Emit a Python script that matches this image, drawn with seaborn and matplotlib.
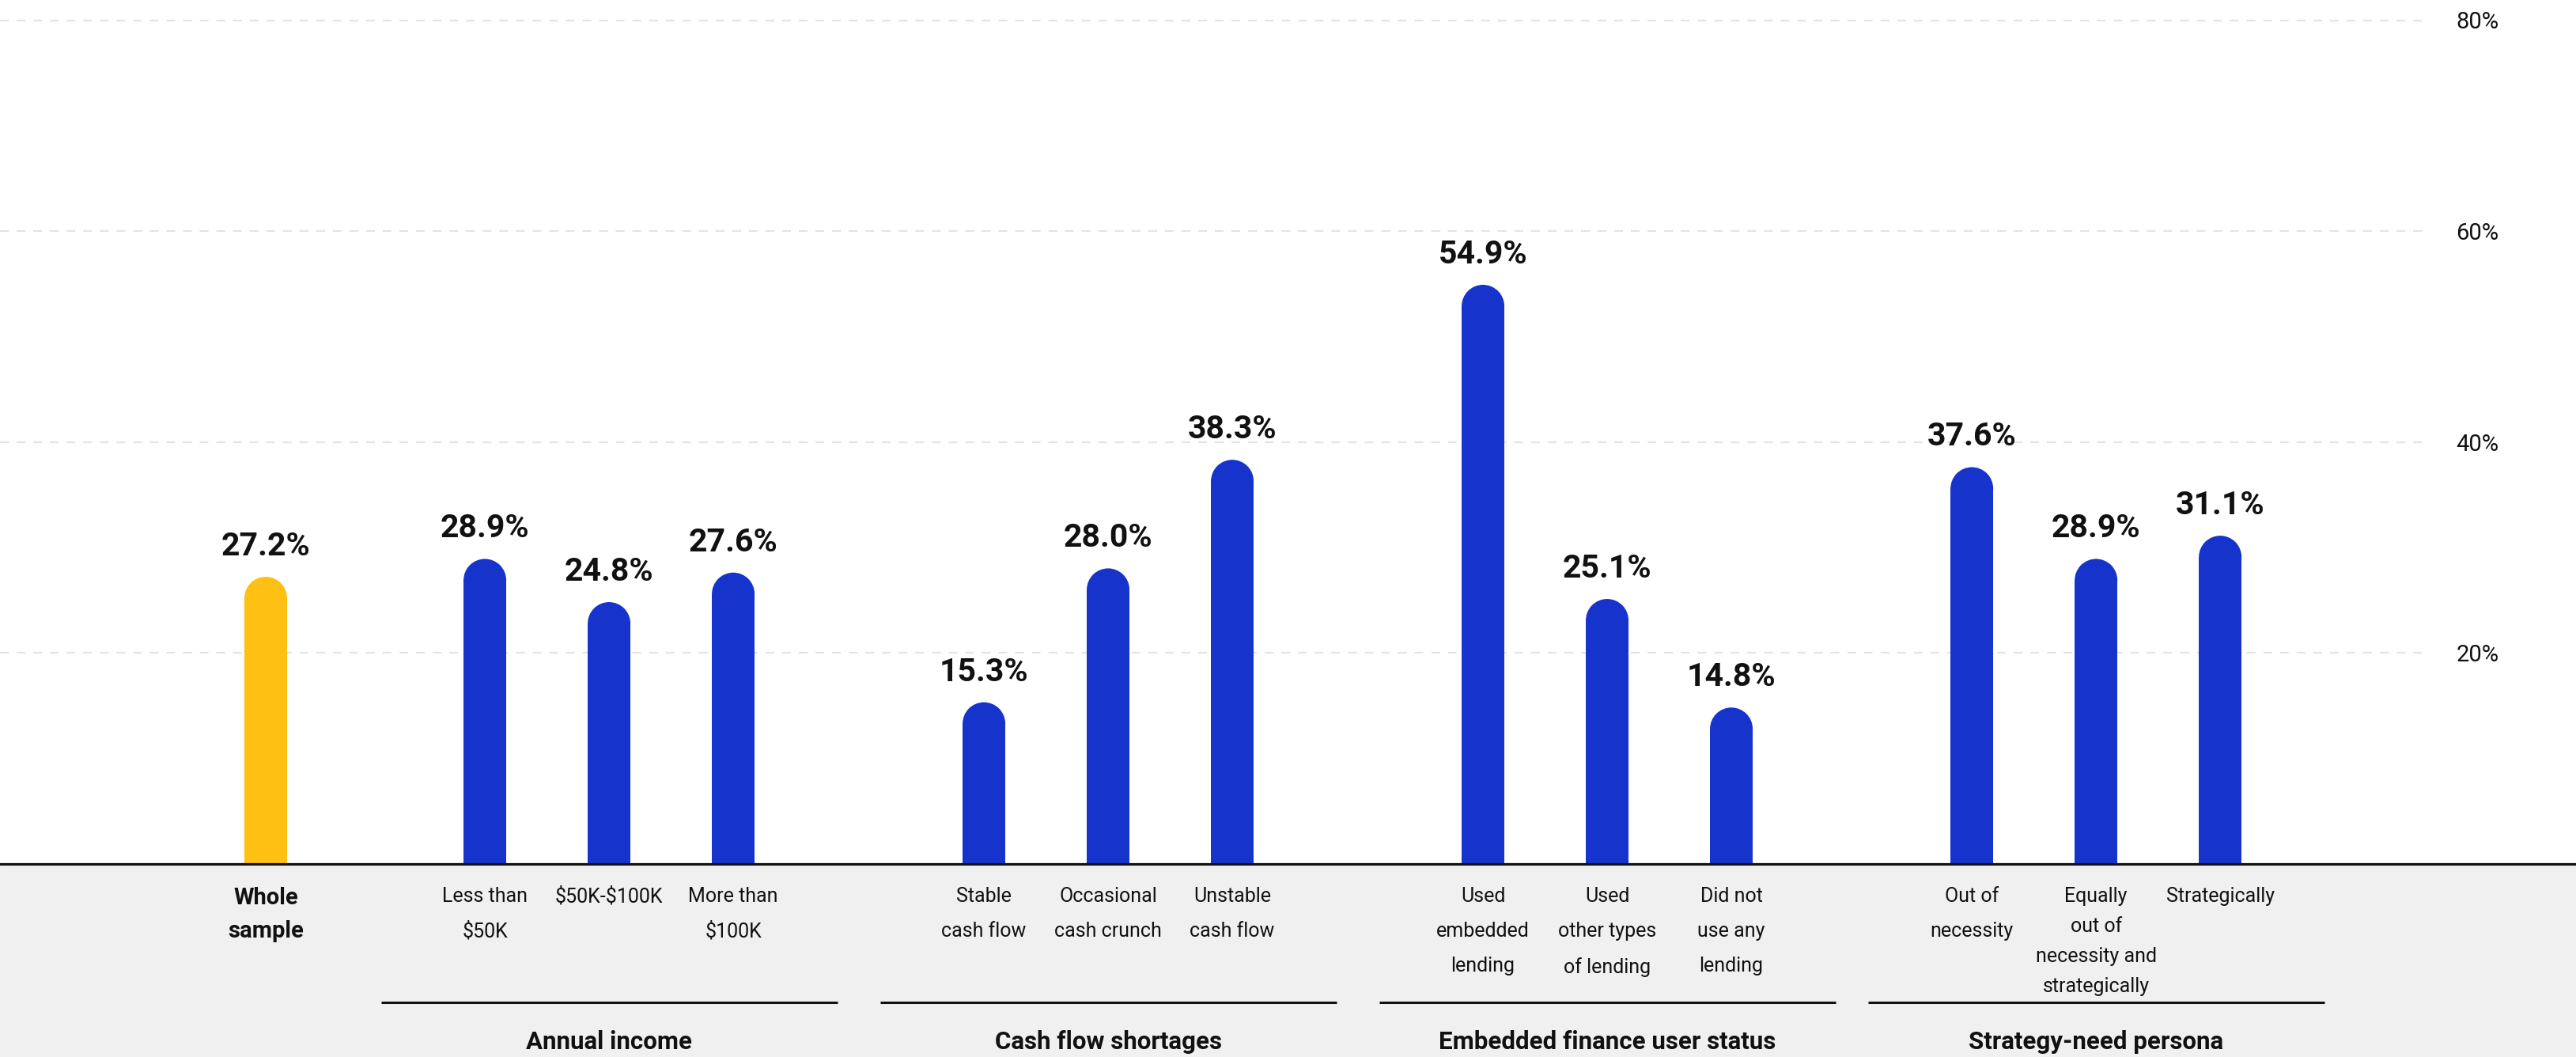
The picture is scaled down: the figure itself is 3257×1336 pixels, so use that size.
import numpy as np
import pandas as pd
import matplotlib
matplotlib.use("Agg")
import matplotlib.pyplot as plt
import matplotlib.transforms as mtransforms
from matplotlib.patches import Ellipse, Rectangle
from matplotlib.lines import Line2D
import seaborn as sns

# ---------------- data ----------------
categories = [
    "Whole\nsample",
    "Less than\n$50K", "$50K-$100K", "More than\n$100K",
    "Stable\ncash flow", "Occasional\ncash crunch", "Unstable\ncash flow",
    "Used\nembedded\nlending", "Used\nother types\nof lending", "Did not\nuse any\nlending",
    "Out of\nnecessity", "Equally\nout of\nnecessity and\nstrategically", "Strategically",
]
values = [27.2, 28.9, 24.8, 27.6, 15.3, 28.0, 38.3, 54.9, 25.1, 14.8, 37.6, 28.9, 31.1]
kinds = ["Whole sample"] + ["Segment"] * 12
group_titles = ["Annual income", "Cash flow shortages",
                "Embedded finance user status", "Strategy-need persona"]
y_ticks = [20, 40, 60, 80]
y_tick_labels = ["20%", "40%", "60%", "80%"]

# ---------------- style ----------------
YELLOW = "#FDC013"
BLUE = "#1634CC"
INK = "#111111"
BG_GRAY = "#F0F0F0"

sns.set_theme(style="white")
plt.rcParams["font.family"] = ["Roboto", "DejaVu Sans"]

W, H = 3257, 1336
fig = plt.figure(figsize=(W / 100, H / 100), dpi=100, facecolor="white")

# layout (pixels)
base_px = 1091.5          # baseline from top
px_per_pct = 13.325
slot = 157.0
ax_right_px = 3068
ymax = 82

ax_h = ymax * px_per_pct
ax = fig.add_axes([0, (H - base_px) / H, ax_right_px / W, ax_h / H])
ax.set_facecolor("none")

# positions in slot units
whole_pos = 2.14
group_centers = [4.905, 8.924, 12.943, 16.88]
positions = [whole_pos] + [c + o for c in group_centers for o in (-1, 0, 1)]

df = pd.DataFrame({"pos": positions, "value": values, "kind": kinds})

sns.barplot(data=df, x="pos", y="value", hue="kind",
            palette={"Whole sample": YELLOW, "Segment": BLUE},
            native_scale=True, width=0.344, dodge=False, legend=False,
            saturation=1, linewidth=0, ax=ax, zorder=3)

ax.set_xlim(0, ax_right_px / slot)
ax.set_ylim(0, ymax)

# rounded caps
p0 = ax.transData.transform((0, 0))
p1 = ax.transData.transform((1, 1))
sx, sy = p1[0] - p0[0], p1[1] - p0[1]
for p in list(ax.patches):
    x0, w, h = p.get_x(), p.get_width(), p.get_height()
    ry = (w * sx / 2) / sy
    p.set_height(h - ry)
    ax.add_patch(Ellipse((x0 + w / 2, h - ry), w, 2 * ry,
                         facecolor=p.get_facecolor(), lw=0, zorder=3))

# value labels
for x, v in zip(df["pos"], df["value"]):
    ax.annotate(f"{v:.1f}%", (x, v), xytext=(0, 19.5), textcoords="offset points",
                ha="center", va="baseline", fontsize=29.5, fontweight="bold",
                color=INK)

# grid & axes
ax.yaxis.grid(True, color="#E3E3E3", lw=1.5, linestyle=(0, (5.3, 4.8)))
ax.xaxis.grid(False)
ax.set_axisbelow(True)
for s in ax.spines.values():
    s.set_visible(False)
ax.yaxis.tick_right()
ax.set_yticks(y_ticks)
ax.set_yticklabels(y_tick_labels)
ax.tick_params(axis="y", length=0, pad=27, labelsize=21, labelcolor=INK)
ax.set_xticks([])
ax.set_xlabel("")
ax.set_ylabel("")

# bottom gray band and baseline
fig.add_artist(Rectangle((0, 0), 1, (H - base_px) / H, transform=fig.transFigure,
                         facecolor=BG_GRAY, edgecolor="none", zorder=-10))
fig.add_artist(Line2D([0, 1], [(H - base_px) / H] * 2, transform=fig.transFigure,
                      color=INK, lw=2.3, zorder=5))

# category labels
blend = mtransforms.blended_transform_factory(ax.transData, fig.transFigure)
label_top = (H - 1121) / H
for i, (x, lab) in enumerate(zip(df["pos"], categories)):
    if i == 0:
        ax.text(x, label_top, lab, transform=blend, ha="center", va="top",
                multialignment="center", fontsize=21, fontweight="bold",
                linespacing=1.65, color=INK, parse_math=False, clip_on=False)
    else:
        ls = 1.73 if lab.startswith("Equally") else 2.05
        ax.text(x, label_top, lab, transform=blend, ha="center", va="top",
                multialignment="center", fontsize=18, linespacing=ls,
                color=INK, parse_math=False, clip_on=False)

# group lines and titles
line_y = (H - 1267) / H
title_y = (H - 1326) / H
half = 288.5 / slot
for c, t in zip(group_centers, group_titles):
    ax.plot([c - half, c + half], [line_y, line_y], transform=blend, color=INK,
            lw=2.2, clip_on=False, solid_capstyle="butt")
    ax.text(c, title_y, t, transform=blend, ha="center", va="baseline",
            fontsize=22.5, fontweight="bold", color=INK, clip_on=False)

fig.savefig("out.png", dpi=100)
